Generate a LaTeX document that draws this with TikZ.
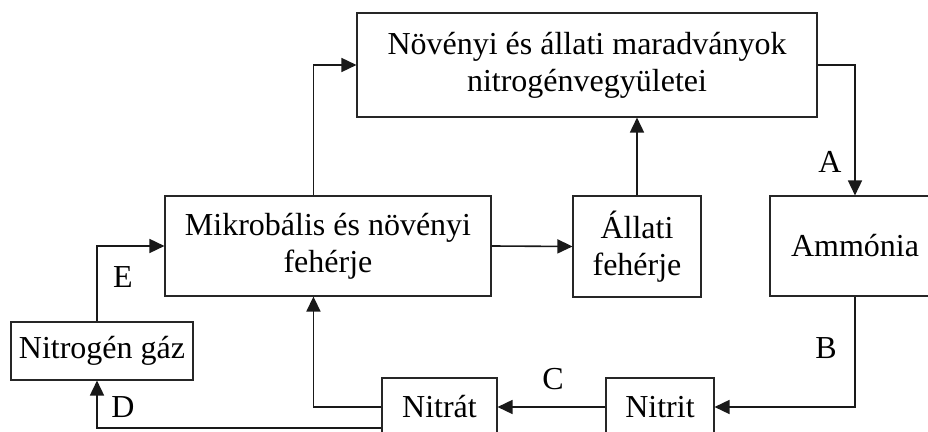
\documentclass[tikz,border=0pt]{standalone}
\usepackage{fontspec}
\setmainfont{Liberation Serif}
\usetikzlibrary{arrows.meta}
\begin{document}
\begin{tikzpicture}[x=0.5pt,y=-0.5pt,
  box/.style={draw=black!85,line width=0.55pt,align=center,inner sep=0pt,font=\fontsize{16}{18.5}\selectfont},
  conn/.style={draw=black!90,line width=0.8pt,-{Triangle[length=7.5pt,width=7pt]}},
  plain/.style={draw=black!90,line width=0.8pt},
  lab/.style={font=\fontsize{16}{18.5}\selectfont,inner sep=0pt}]
\useasboundingbox (0,0) rectangle (928,432);
\node[box,minimum width=230pt,minimum height=52pt] (top) at (587,65) {Növényi és állati maradványok\\nitrogénvegyületei};
\node[box,minimum width=163pt,minimum height=50pt] (mikro) at (328,246) {Mikrobális és növényi\\fehérje};
\node[box,minimum width=64pt,minimum height=50.5pt] (allati) at (637,246.5) {Állati\\fehérje};
\node[box,minimum width=85pt,minimum height=50pt] (ammonia) at (855,246) {Ammónia};
\node[box,minimum width=91pt,minimum height=29pt] (nitrogen) at (102,351) {Nitrogén gáz};
\node[box,minimum width=57.5pt,minimum height=29pt] (nitrat) at (439.5,407) {Nitrát};
\node[box,minimum width=54pt,minimum height=29pt] (nitrit) at (660,407) {Nitrit};

\draw[conn] ([xshift=74.5pt]mikro.north west) |- (top.west);
\draw[conn] (allati.north) -- (allati.north |- top.south);
\draw[conn] (top.east) -| (ammonia.north);
\draw[conn] (ammonia.south) |- (nitrit.east);
\draw[conn] (nitrit.west) -- (nitrat.east);
\draw[conn] (nitrat.west) -| ([xshift=74.5pt]mikro.south west);
\draw[conn] ([yshift=-10.5pt]nitrat.west) -| ([xshift=-2.5pt]nitrogen.south);
\draw[conn] ([xshift=-2.5pt]nitrogen.north) |- (mikro.west);
\draw[conn] (mikro.east) -- (allati.west);

\node[lab] (la) at (830,162) {A};
\node[lab] (lb) at (826,348) {B};
\node[lab] (lc) at (553,379) {C};
\node[lab] (ld) at (123,407) {D};
\node[lab] (le) at (123,277) {E};
\end{tikzpicture}
\end{document}
